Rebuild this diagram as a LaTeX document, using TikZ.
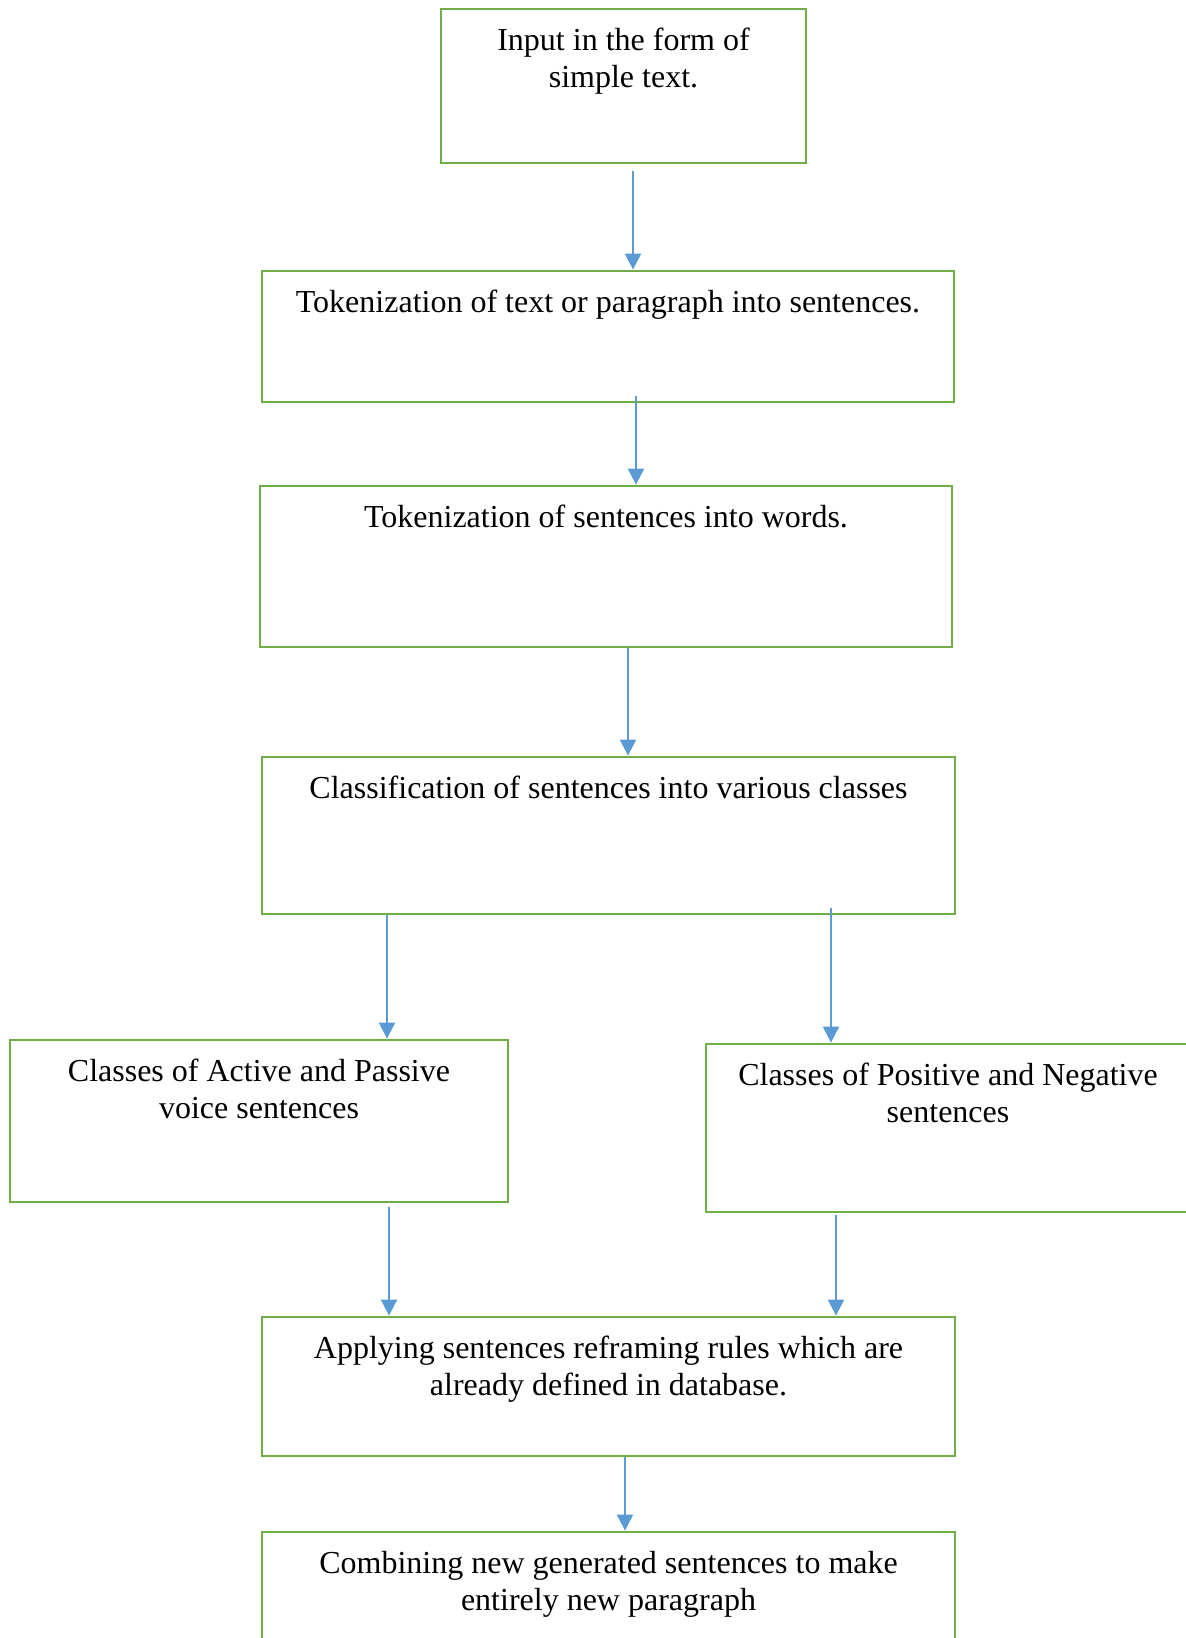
\documentclass[tikz,border=0pt]{standalone}
\usepackage{fontspec}
\setmainfont{Liberation Serif}
\usetikzlibrary{positioning,arrows.meta}
\definecolor{boxgreen}{HTML}{70AD47}
\definecolor{flowblue}{HTML}{5B9BD5}

\begin{document}
\begin{tikzpicture}
		[x=0.5pt, y=-0.5pt,
		stage/.style={draw=boxgreen, line width=1.4pt, inner sep=0pt},
		stagetext/.style={inner sep=0pt, align=center, font=\fontsize{16}{18.5}\selectfont},
		flow/.style={draw=flowblue, line width=1pt, -{Triangle[length=8pt,width=8pt]}}]
		\useasboundingbox (0,0) rectangle (1186,1638);
		\node[stage, minimum width=182.5pt, minimum height=77pt] (input) at (623.5,86) {};
		\node[stage, minimum width=346pt, minimum height=65.5pt] (toktext) at (608,336.5) {};
		\node[stage, minimum width=346pt, minimum height=80.5pt] (tokword) at (606,566.5) {};
		\node[stage, minimum width=346.5pt, minimum height=78.5pt] (classify) at (608.5,835.5) {};
		\node[stage, minimum width=249pt, minimum height=81pt] (active) at (259,1121) {};
		\node[stage, minimum width=242pt, minimum height=84pt] (positive) at (948,1128) {};
		\node[stage, minimum width=346.5pt, minimum height=69.5pt] (apply) at (608.5,1386.5) {};
		\node[stage, minimum width=346.5pt, minimum height=74pt] (combine) at (608.5,1606) {};

		\node[stagetext, below=10pt of input.north] (inputT) {Input in the form of\\simple text.};
		\node[stagetext, below=10pt of toktext.north] (toktextT) {Tokenization of text or paragraph into sentences.};
		\node[stagetext, below=10pt of tokword.north] (tokwordT) {Tokenization of sentences into words.};
		\node[stagetext, below=10pt of classify.north] (classifyT) {Classification of sentences into various classes};
		\node[stagetext, below=10pt of active.north] (activeT) {Classes of Active and Passive\\voice sentences};
		\node[stagetext, below=10pt of positive.north] (positiveT) {Classes of Positive and Negative\\sentences};
		\node[stagetext, below=10pt of apply.north] (applyT) {Applying sentences reframing rules which are\\already defined in database.};
		\node[stagetext, below=10pt of combine.north] (combineT) {Combining new generated sentences to make\\entirely new paragraph};

		\draw[flow] ([xshift=4.75pt,yshift=-3.5pt]input.south) -- ([xshift=4.75pt]input.south |- toktext.north);
		\draw[flow] ([xshift=14pt,yshift=3.5pt]toktext.south) -- ([xshift=14pt]toktext.south |- tokword.north);
		\draw[flow] ([xshift=11pt]tokword.south) -- ([xshift=11pt]tokword.south |- classify.north);
		\draw[flow] ([xshift=-110.75pt]classify.south) -- ([xshift=-110.75pt]classify.south |- active.north);
		\draw[flow] ([xshift=111.25pt,yshift=3.5pt]classify.south) -- ([xshift=111.25pt]classify.south |- positive.north);
		\draw[flow] ([xshift=65pt,yshift=-2pt]active.south) -- ([xshift=65pt]active.south |- apply.north);
		\draw[flow] ([xshift=-56pt,yshift=-1pt]positive.south) -- ([xshift=-56pt]positive.south |- apply.north);
		\draw[flow] ([xshift=8.25pt]apply.south) -- ([xshift=8.25pt]apply.south |- combine.north);
	\end{tikzpicture}
\end{document}
